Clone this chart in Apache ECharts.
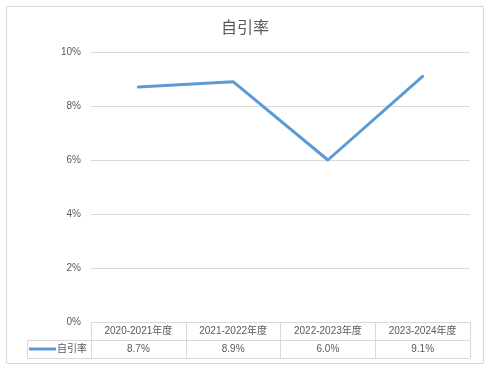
<!DOCTYPE html>
<html>
<head>
<meta charset="utf-8">
<script src="https://cdn.jsdelivr.net/npm/echarts@6/dist/echarts.min.js"></script>
<style>html,body{margin:0;padding:0;background:#fff;}#c{width:490px;height:372px;}</style>
</head>
<body>
<div id="c"></div>
<script>
const title = '自引率';
const seriesName = '自引率';
const categories = ['2020-2021年度', '2021-2022年度', '2022-2023年度', '2023-2024年度'];
const values = [8.7, 8.9, 6.0, 9.1];
const yTicks = [0, 2, 4, 6, 8, 10];

const FONT = '"Liberation Sans", "Noto Sans CJK SC", sans-serif';
const TXT = '#595959';
const LINE = '#d9d9d9';
const G = { left: 91, right: 20, top: 52, bottom: 50 };
const W = 490, H = 372;
const gx0 = G.left, gx1 = W - G.right, gy0 = H - G.bottom;
const rowH = 18;

const chart = echarts.init(document.getElementById('c'), null, { renderer: 'canvas' });
chart.setOption({
  animation: false,
  backgroundColor: '#fff',
  title: {
    text: title, left: 'center', top: 14,
    textStyle: { fontFamily: '"Noto Sans CJK SC", sans-serif', fontSize: 16, fontWeight: 'normal', color: TXT }
  },
  grid: { left: G.left, right: G.right, top: G.top, bottom: G.bottom, containLabel: false },
  legend: {
    left: 29, top: gy0 + rowH + 4, padding: 0, itemWidth: 27, itemHeight: 10, itemGap: 0,
    data: [{ name: seriesName, icon: 'path://M0,4L27,4L27,7L0,7Z' }],
    textStyle: { fontFamily: FONT, fontSize: 10, color: TXT, padding: [0, 0, 0, -4] }
  },
  xAxis: {
    type: 'category', data: categories, boundaryGap: true,
    axisLine: { show: true, lineStyle: { color: LINE, width: 1 } },
    axisTick: { show: true, length: rowH * 2, lineStyle: { color: LINE, width: 1 } },
    axisLabel: {
      margin: 0, interval: 0,
      formatter: (v, i) => `{a|${v}}\n{b|${values[i].toFixed(1)}%}`,
      rich: {
        a: { fontFamily: FONT, fontSize: 10, color: TXT, lineHeight: rowH, height: rowH, align: 'center' },
        b: { fontFamily: FONT, fontSize: 10, color: TXT, lineHeight: rowH, height: rowH, align: 'center' }
      }
    }
  },
  yAxis: {
    type: 'value', min: yTicks[0], max: yTicks[yTicks.length - 1], interval: 2,
    axisLine: { show: false }, axisTick: { show: false },
    axisLabel: { formatter: '{value}%', fontFamily: FONT, fontSize: 10, color: TXT, margin: 10 },
    splitLine: { lineStyle: { color: LINE, width: 1 } }
  },
  series: [{
    name: seriesName, type: 'line', data: values,
    symbol: 'none', showSymbol: false,
    lineStyle: { color: '#5b9bd5', width: 3, cap: 'round', join: 'round' },
    itemStyle: { color: '#5b9bd5' }
  }],
  graphic: [
    { type: 'rect', shape: { x: 6.5, y: 6.5, width: 477, height: 357 }, style: { fill: null, stroke: LINE, lineWidth: 1 }, silent: true },
    { type: 'line', shape: { x1: 27, y1: gy0 + rowH + 0.5, x2: gx1, y2: gy0 + rowH + 0.5 }, style: { stroke: LINE, lineWidth: 1 }, silent: true },
    { type: 'line', shape: { x1: 27, y1: gy0 + rowH * 2 + 0.5, x2: gx1, y2: gy0 + rowH * 2 + 0.5 }, style: { stroke: LINE, lineWidth: 1 }, silent: true },
    { type: 'line', shape: { x1: 27.5, y1: gy0 + rowH, x2: 27.5, y2: gy0 + rowH * 2 + 0.5 }, style: { stroke: LINE, lineWidth: 1 }, silent: true }
  ]
});
</script>
</body>
</html>
